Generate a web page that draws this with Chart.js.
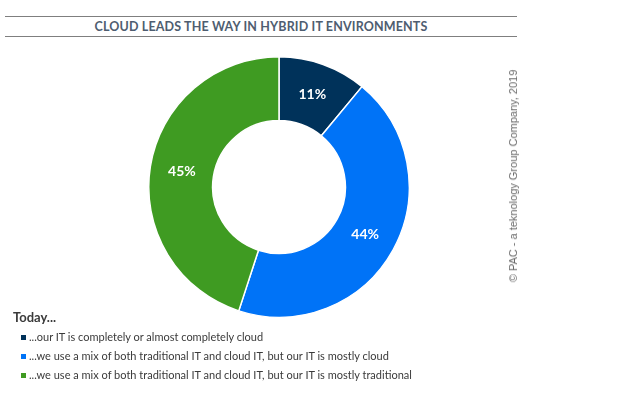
<!DOCTYPE html>
<html>
<head>
<meta charset="utf-8">
<script src="https://cdn.jsdelivr.net/npm/chart.js@4"></script>
<style>
  body { margin: 0; width: 640px; height: 396px; background: #fff; position: relative; overflow: hidden; font-family: Lato, "Noto Sans", sans-serif; }
  #titulo { position: absolute; left: 5px; top: 16px; width: 512px; height: 19px; border-top: 1px solid #7f7f7f; border-bottom: 1px solid #7f7f7f; text-align: center; font-size: 12.5px; line-height: 19px; font-weight: bold; letter-spacing: 0.15px; color: #4e5d70; }
  #contGrafica { position: absolute; left: 0; top: 56px; width: 558px; height: 262px; }
  #leyenda { position: absolute; left: 13px; top: 309px; color: #3a3a3a; }
  #leyenda .tit { font-weight: bold; font-size: 13px; margin-bottom: 2px; }
  #leyenda .item { font-size: 11px; height: 19px; line-height: 19px; padding-left: 8px; }
  #leyenda .cuadro { display: inline-block; width: 5px; height: 5px; margin-right: 3px; vertical-align: 1px; }
  #copy { position: absolute; left: 513px; top: 176px; transform: translate(-50%, -50%) rotate(-90deg); white-space: nowrap; font-family: "Liberation Sans", sans-serif; font-size: 11px; color: #6a6a6a; }
</style>
</head>
<body>
<div id="titulo">CLOUD LEADS THE WAY IN HYBRID IT ENVIRONMENTS</div>
<div id="contGrafica"><canvas id="grafica"></canvas></div>
<div id="leyenda"></div>
<div id="copy">© PAC - a teknology Group Company, 2019</div>
<script>
// datos de la gráfica
const categorias = [
    '...our IT is completely or almost completely cloud',
    '...we use a mix of both traditional IT and cloud IT, but our IT is mostly cloud',
    '...we use a mix of both traditional IT and cloud IT, but our IT is mostly traditional'
];
const porcentajes = [11, 44, 45];
const colores = ['#00325a', '#0073f7', '#3f9b22'];

// leyenda en html
const leyenda = document.getElementById('leyenda');
let html = '<div class="tit">Today...</div>';
categorias.forEach((c, i) => {
    html += `<div class="item"><span class="cuadro" style="background:${colores[i]}"></span>${c}</div>`;
});
leyenda.innerHTML = html;

// etiquetas de porcentaje dentro de cada sector
const etiquetas = {
    id: 'etiquetas',
    afterDatasetsDraw(chart) {
        const ctx = chart.ctx;
        const meta = chart.getDatasetMeta(0);
        ctx.save();
        ctx.fillStyle = '#fff';
        ctx.font = 'bold 14px Lato, sans-serif';
        ctx.textAlign = 'center';
        ctx.textBaseline = 'middle';
        meta.data.forEach((arco, i) => {
            const p = arco.tooltipPosition();
            ctx.fillText(porcentajes[i] + '%', p.x, p.y);
        });
        ctx.restore();
    }
};

const graph = document.querySelector('#grafica');
new Chart(graph, {
    type: 'doughnut',
    data: {
        labels: categorias,
        datasets: [{
            data: porcentajes,
            backgroundColor: colores,
            borderColor: '#fff',
            borderWidth: 1.5
        }]
    },
    options: {
        responsive: true,
        maintainAspectRatio: false,
        animation: false,
        cutout: '51%',
        plugins: {
            legend: { display: false },
            tooltip: { enabled: false }
        }
    },
    plugins: [etiquetas]
});
</script>
</body>
</html>
